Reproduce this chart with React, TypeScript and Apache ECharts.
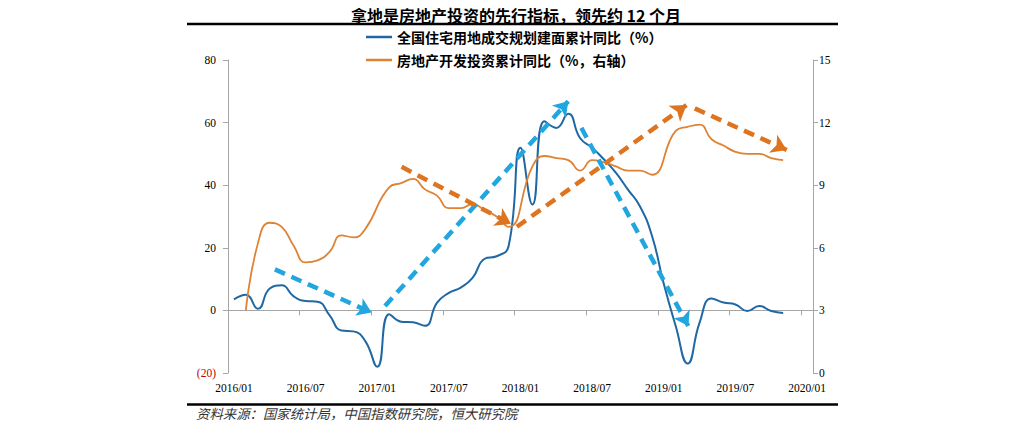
import React, { useEffect, useRef } from "react";
import * as echarts from "echarts";

const months = [
  "2016/01", "2016/02", "2016/03", "2016/04", "2016/05", "2016/06", "2016/07", "2016/08", "2016/09", "2016/10", "2016/11", "2016/12",
  "2017/01", "2017/02", "2017/03", "2017/04", "2017/05", "2017/06", "2017/07", "2017/08", "2017/09", "2017/10", "2017/11", "2017/12",
  "2018/01", "2018/02", "2018/03", "2018/04", "2018/05", "2018/06", "2018/07", "2018/08", "2018/09", "2018/10", "2018/11", "2018/12",
  "2019/01", "2019/02", "2019/03", "2019/04", "2019/05", "2019/06", "2019/07", "2019/08", "2019/09", "2019/10", "2019/11", "2019/12",
  "2020/01",
];

// 全国住宅用地成交规划建面累计同比（%）, left axis
const landArea = [
  3.5, 5.0, 0.5, 7.0, 8.0, 4.5, 3.0, 2.8, -1.5, -6.4, -6.7, -9.8,
  -18.0, -1.2, -3.6, -3.8, -4.9, 2.4, 5.6, 7.3, 10.5, 16.5, 17.3, 20.5,
  52.0, 33.8, 60.4, 58.3, 62.8, 55.0, 52.0, 48.2, 43.9, 38.6, 33.3, 24.0,
  8.5, -5.0, -17.0, -3.9, 3.8, 2.5, 1.9, -0.2, 1.4, -0.2, -0.8,
];

// 房地产开发投资累计同比（%，右轴）
const investment = [
  null, 3.0, 6.2, 7.2, 7.0, 6.1, 5.3, 5.4, 5.8, 6.6, 6.5, 6.9,
  null, 8.9, 9.1, 9.3, 8.8, 8.5, 7.9, 7.9, 8.1, 7.8, 7.5, 7.0,
  null, 9.9, 10.4, 10.3, 10.2, 9.7, 10.2, 10.1, 9.9, 9.7, 9.7, 9.5,
  null, 11.6, 11.8, 11.9, 11.2, 10.9, 10.6, 10.5, 10.5, 10.3, 10.2,
];

// annotation arrows: [monthIndex, value] start -> end
const blueArrows = [
  [[3.43, 13.1], [11.53, -0.7]],
  [[12.65, 1.4], [28.0, 66.8]],
  [[29.1, 58.3], [38.05, -5.0]],
];
const orangeArrows = [
  [[14.04, 9.88], [23.2, 7.15]],
  [[23.7, 7.01], [37.9, 12.84]],
  [[38.6, 12.68], [46.3, 10.69]],
];

const leftTicks = { min: -20, max: 80, interval: 20 };
const rightTicks = { min: 0, max: 15, interval: 3 };

const titleText = "拿地是房地产投资的先行指标，领先约 12 个月";
const sourceText = "资料来源：国家统计局，中国指数研究院，恒大研究院";
const seriesNames = ["全国住宅用地成交规划建面累计同比（%）", "房地产开发投资累计同比（%，右轴）"];

const CJK = '"Noto Sans CJK SC", sans-serif';
const SERIF = '"Liberation Serif", "DejaVu Serif", serif';

export default function App() {
  const ref = useRef<HTMLDivElement>(null);

  useEffect(() => {
    if (!ref.current) return;
    const chart = echarts.init(ref.current, null, { renderer: "svg" });
    const axisLineStyle = { color: "#A6A6A6", width: 1 };
    const option: any = {
      animation: false,
      backgroundColor: "#ffffff",
      title: {
        text: titleText,
        left: "center",
        top: 2,
        textStyle: { fontFamily: CJK, fontSize: 16, fontWeight: "bold", color: "#000" },
      },
      legend: {
        data: seriesNames,
        orient: "vertical",
        left: 366,
        top: 30,
        padding: 0,
        icon: "rect",
        itemWidth: 26,
        itemHeight: 2.5,
        itemGap: 9,
        textStyle: { fontFamily: CJK, fontSize: 14, fontWeight: "bold", color: "#000" },
      },
      graphic: [
        { type: "line", shape: { x1: 187, y1: 24, x2: 838, y2: 24 }, style: { stroke: "#000", lineWidth: 2.5 } },
        { type: "line", shape: { x1: 187, y1: 404.5, x2: 838, y2: 404.5 }, style: { stroke: "#000", lineWidth: 2.5 } },
        {
          type: "text",
          left: 196,
          top: 406,
          style: { text: sourceText, fontFamily: CJK, fontSize: 13.4, fontStyle: "italic", fill: "#333" },
        },
      ],
      grid: { left: 228, right: 219, top: 60, bottom: 69, containLabel: false, outerBoundsMode: "none" },
      xAxis: [
        {
          type: "category",
          data: months,
          boundaryGap: true,
          position: "bottom",
          axisLine: { show: false, onZero: false },
          axisTick: { show: false },
          axisLabel: { interval: 5, margin: 9, fontFamily: SERIF, fontSize: 11.5, color: "#000" },
          splitLine: { show: false },
        },
        {
          type: "category",
          data: months,
          boundaryGap: true,
          position: "bottom",
          axisLine: { show: true, onZero: true, onZeroAxisIndex: 0, lineStyle: axisLineStyle },
          axisTick: { show: true, interval: 5, length: 5, alignWithLabel: false, lineStyle: axisLineStyle },
          axisLabel: { show: false },
          splitLine: { show: false },
        },
        {
          type: "value",
          min: -0.5,
          max: 48.5,
          show: false,
          axisLine: { onZero: false },
          splitLine: { show: false },
        },
      ],
      yAxis: [
        {
          type: "value",
          position: "left",
          min: leftTicks.min,
          max: leftTicks.max,
          interval: leftTicks.interval,
          axisLine: { show: true, onZero: false, lineStyle: axisLineStyle },
          axisTick: { show: true, length: 5, lineStyle: axisLineStyle },
          axisLabel: {
            margin: 12,
            fontFamily: SERIF,
            fontSize: 11.5,
            formatter: (v: number) => (v < 0 ? `(${-v})` : `${v}`),
            color: (v: any) => (Number(v) < 0 ? "#C00000" : "#000"),
          },
          splitLine: { show: false },
        },
        {
          type: "value",
          position: "right",
          min: rightTicks.min,
          max: rightTicks.max,
          interval: rightTicks.interval,
          axisLine: { show: true, onZero: false, lineStyle: axisLineStyle },
          axisTick: { show: true, length: 5, lineStyle: axisLineStyle },
          axisLabel: { margin: 6, fontFamily: SERIF, fontSize: 11.5, color: "#000" },
          splitLine: { show: false },
        },
      ],
      series: [
        {
          name: seriesNames[0],
          type: "line",
          xAxisIndex: 0,
          yAxisIndex: 0,
          data: landArea,
          smooth: true,
          symbol: "none",
          color: "#1F68A4",
          lineStyle: { width: 2, color: "#1F68A4" },
          z: 3,
        },
        {
          name: seriesNames[1],
          type: "line",
          xAxisIndex: 0,
          yAxisIndex: 1,
          data: investment,
          connectNulls: true,
          smooth: true,
          symbol: "none",
          color: "#DE8233",
          lineStyle: { width: 1.8, color: "#DE8233" },
          z: 3,
        },
        {
          type: "lines",
          coordinateSystem: "cartesian2d",
          xAxisIndex: 2,
          yAxisIndex: 0,
          data: blueArrows.map((c) => ({ coords: c })),
          symbol: ["none", "arrow"],
          symbolSize: 14,
          lineStyle: { color: "#22A6DF", width: 4.5, type: [11, 7], opacity: 1, curveness: 0 },
          itemStyle: { color: "#22A6DF" },
          z: 4,
          silent: true,
        },
        {
          type: "lines",
          coordinateSystem: "cartesian2d",
          xAxisIndex: 2,
          yAxisIndex: 1,
          data: orangeArrows.map((c) => ({ coords: c })),
          symbol: ["none", "arrow"],
          symbolSize: 15,
          lineStyle: { color: "#DE7420", width: 4.5, type: [11, 7], opacity: 1, curveness: 0 },
          itemStyle: { color: "#DE7420" },
          z: 4,
          silent: true,
        },
      ],
    };
    chart.setOption(option);
    return () => chart.dispose();
  }, []);

  return (
    <div
      ref={ref}
      style={{ position: "absolute", left: 0, top: 0, width: 1032, height: 442, background: "#fff" }}
    />
  );
}
